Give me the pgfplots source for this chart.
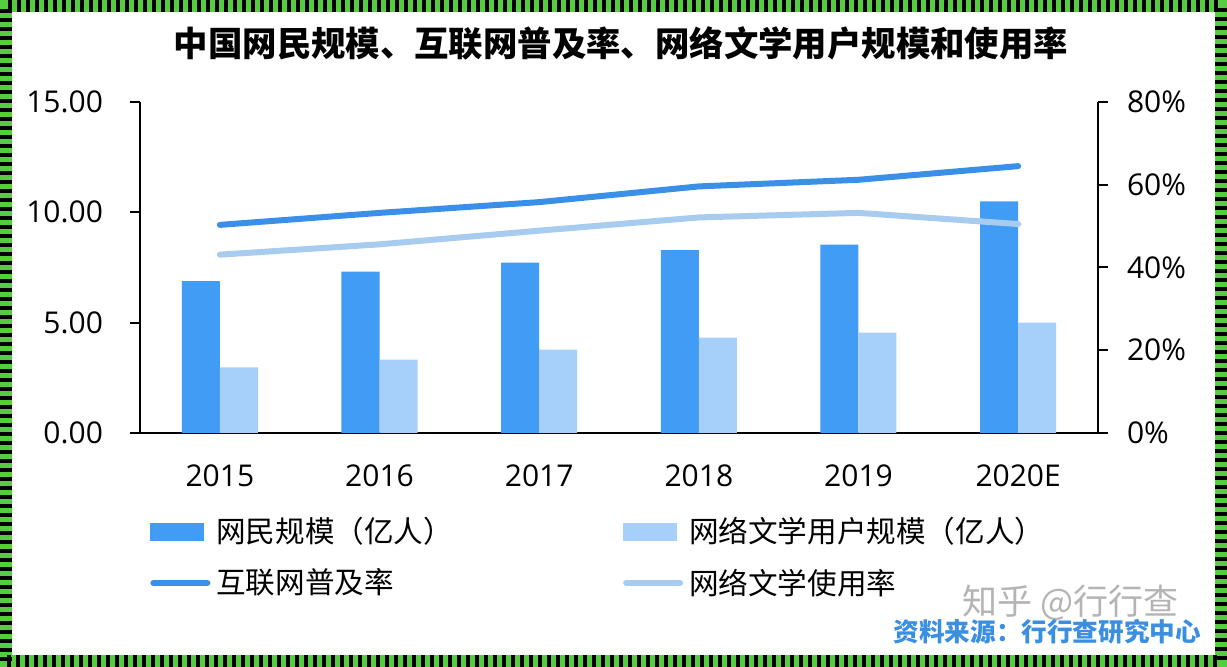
\documentclass[border=0pt]{standalone}
\usepackage{pgfplots}
\usepackage{pgfplotstable}
\pgfplotsset{compat=1.18}
\usepackage{fontspec}
\setmainfont{Open Sans}
\newfontfamily\cjk{Noto Sans CJK SC}
\definecolor{bardark}{RGB}{64,156,245}
\definecolor{barlight}{RGB}{166,208,250}
\definecolor{linedark}{RGB}{58,144,232}
\definecolor{linelight}{RGB}{168,204,240}
\definecolor{frameg}{RGB}{86,204,64}
\definecolor{srcblue}{RGB}{59,143,224}
\definecolor{wmgray}{RGB}{180,180,180}
\pgfplotsset{
  barleg/.style={legend image code/.code={\fill[##1] (0pt,-4.5pt) rectangle (27pt,4.5pt);}},
  lineleg/.style={legend image code/.code={\draw[##1] (1.5pt,0pt) -- (28.5pt,0pt);}},
}
\pgfplotstableread{
x dark light pen read
0 6.88 2.97 50.3 43.1
1 7.31 3.33 53.2 45.6
2 7.72 3.78 55.8 48.9
3 8.29 4.32 59.6 52.1
4 8.54 4.55 61.2 53.2
5 10.50 5.00 64.5 50.5
}\datatable
\begin{document}
\begin{tikzpicture}
\fill[frameg] (0,0) rectangle (613.5pt,333.5pt);
\fill[white] (6pt,6pt) rectangle (607.5pt,327.5pt);
\draw[black, line width=6pt, dash pattern=on 2pt off 2.5pt] (3pt,3pt) rectangle (610.5pt,330.5pt);

\begin{axis}[
  at={(70pt,117pt)}, anchor=south west, scale only axis,
  width=479pt, height=165.5pt,
  xmin=-0.5, xmax=5.5, ymin=0, ymax=15,
  axis x line*=bottom, axis y line*=left,
  axis line style={line width=1pt, -},
  ybar=0pt, bar width=19pt,
  xtick={0,...,5}, xticklabels={2015,2016,2017,2018,2019,2020E},
  x tick style={draw=none},
  ytick={0,5,10,15}, yticklabels={0.00,5.00,10.00,15.00},
  y tick style={line width=1pt, black},
  tick align=outside, major tick length=5pt,
  ticklabel style={font=\fontsize{15}{18}\selectfont},
  yticklabel style={xshift=-10pt},
  xticklabel style={yshift=-7.5pt},
]
\addplot[fill=bardark, draw=none] table[x=x,y=dark]{\datatable};
\addplot[fill=barlight, draw=none] table[x=x,y=light]{\datatable};
\end{axis}

\begin{axis}[
  at={(70pt,117pt)}, anchor=south west, scale only axis,
  width=479pt, height=165.5pt,
  xmin=-0.5, xmax=5.5, ymin=0, ymax=80,
  axis y line*=right, axis x line=none,
  axis line style={line width=1pt, -},
  ytick={0,20,40,60,80}, yticklabels={0\%,20\%,40\%,60\%,80\%},
  y tick style={line width=1pt, black},
  tick align=outside, major tick length=5pt,
  ticklabel style={font=\fontsize{15}{18}\selectfont},
  yticklabel style={xshift=6pt},
  legend columns=2, legend cell align=left,
  legend style={at={(0.0104,-0.248)}, anchor=north west, draw=none, fill=none,
    inner sep=0pt, font=\cjk\fontsize{14.8}{16}\selectfont, row sep=9.5pt,
    nodes={inner sep=1pt},
    /tikz/every odd column/.append style={column sep=2pt},
    /tikz/every even column/.append style={column sep=84pt}},
]
\addlegendimage{barleg, fill=bardark, draw=none}
\addlegendentry{网民规模（亿人）}
\addlegendimage{barleg, fill=barlight, draw=none}
\addlegendentry{网络文学用户规模（亿人）}
\addplot[linedark, line width=3pt, line cap=round, mark=none, lineleg] table[x=x,y=pen]{\datatable};
\addlegendentry{互联网普及率}
\addplot[linelight, line width=3pt, line cap=round, mark=none, lineleg] table[x=x,y=read]{\datatable};
\addlegendentry{网络文学使用率}
\end{axis}

\node[font=\cjk\bfseries\fontsize{17.2}{20}\selectfont] at (310.5pt,312pt) {中国网民规模、互联网普及率、网络文学用户规模和使用率};
\node[anchor=east, font=\cjk\fontsize{17.5}{20}\selectfont, text=wmgray] at (593pt,32pt) {知乎 @行行查};
\node[anchor=east, font=\cjk\bfseries\fontsize{12.8}{15}\selectfont, text=srcblue] at (604pt,17.5pt) {资料来源：行行查研究中心};
\end{tikzpicture}
\end{document}
